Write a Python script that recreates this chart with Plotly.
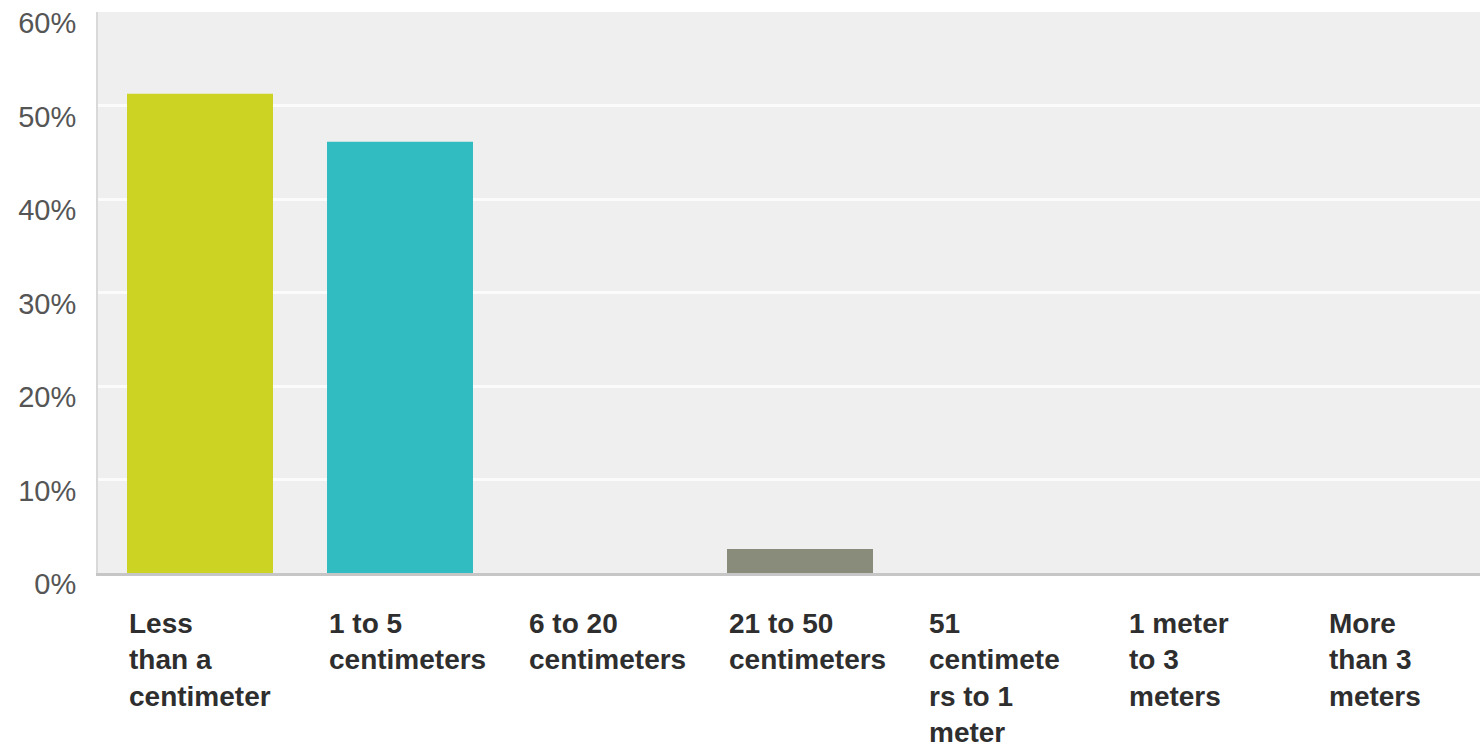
import plotly.graph_objects as go

# Survey answer categories (line breaks as shown under each bar)
categories = [
    "Less<br>than a<br>centimeter",
    "1 to 5<br>centimeters",
    "6 to 20<br>centimeters",
    "21 to 50<br>centimeters",
    "51<br>centimete<br>rs to 1<br>meter",
    "1 meter<br>to 3<br>meters",
    "More<br>than 3<br>meters",
]
# Share of responses, in percent
shares = [51.28, 46.15, 0, 2.56, 0, 0, 0]
bar_colors = ["#cdd322", "#30bcc0", "#e6a23c", "#898b7b", "#7a5ca8", "#d5573b", "#4f81bd"]
y_ticks = [0, 10, 20, 30, 40, 50, 60]
y_tick_text = [f"{v}%" for v in y_ticks]

BAR_WIDTH = 0.73
positions = list(range(len(categories)))

fig = go.Figure(
    go.Bar(
        x=positions,
        y=shares,
        marker=dict(color=bar_colors, line=dict(width=0)),
        width=BAR_WIDTH,
        hoverinfo="skip",
    )
)

# Category labels: multi-line blocks left-aligned with each bar's left edge
for pos, label in zip(positions, categories):
    fig.add_annotation(
        x=pos - BAR_WIDTH / 2,
        y=0,
        xref="x",
        yref="paper",
        yanchor="top",
        xanchor="left",
        align="left",
        text=label,
        showarrow=False,
        yshift=-33,
        font=dict(family="Liberation Sans, Arial, sans-serif", size=28, color="#2e2e2e", weight="bold"),
    )

fig.update_layout(
    width=1480,
    height=747,
    margin=dict(l=98, r=0, t=12, b=174),
    paper_bgcolor="white",
    plot_bgcolor="#efefef",
    showlegend=False,
    xaxis=dict(
        range=[-0.51, 6.4],
        showticklabels=False,
        showgrid=False,
        zeroline=False,
        showline=True,
        linecolor="#c6c6c6",
        linewidth=3,
        fixedrange=True,
    ),
    yaxis=dict(
        range=[0, 60.02],
        tickvals=y_ticks,
        ticktext=y_tick_text,
        showgrid=True,
        gridcolor="#fbfbfb",
        gridwidth=3,
        zeroline=False,
        showline=True,
        linecolor="#d9d9d9",
        linewidth=2,
        ticks="",
        ticklabelstandoff=14,
        ticklabelshift=11,
        tickfont=dict(family="Liberation Sans, Arial, sans-serif", size=29, color="#555555"),
        fixedrange=True,
    ),
)

fig.write_html("out.html", config={"displayModeBar": False})
